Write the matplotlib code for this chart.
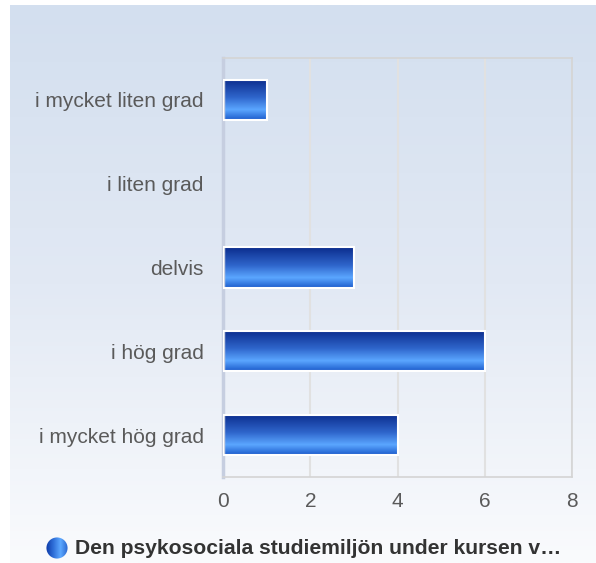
import numpy as np
import matplotlib
matplotlib.use("Agg")
import matplotlib.pyplot as plt
from matplotlib.colors import LinearSegmentedColormap
from matplotlib.patches import Circle

# Data
categories = ["i mycket liten grad", "i liten grad", "delvis", "i hög grad", "i mycket hög grad"]
counts = [1, 0, 3, 6, 4]
xticks = [0, 2, 4, 6, 8]
legend_label = "Den psykosociala studiemiljön under kursen v…"

plt.rcParams['font.family'] = ['Liberation Sans', 'DejaVu Sans']

W, H = 596, 563
fig = plt.figure(figsize=(W / 100, H / 100), dpi=100, facecolor="white")

# background panel gradient
bg = fig.add_axes([10 / W, 0, (W - 10) / W, (H - 5) / H], zorder=0)
bg_cmap = LinearSegmentedColormap.from_list("bg", ["#d3dfef", "#e2e9f4", "#fafbfd"])
bg.imshow(np.linspace(0, 1, 256).reshape(-1, 1), cmap=bg_cmap, aspect="auto",
          extent=(0, 1, 0, 1), origin="upper")
bg.set_axis_off()

# main plot
ax = fig.add_axes([223 / W, (H - 477) / H, (572 - 223) / W, (477 - 58) / H], zorder=1)
ax.set_facecolor("none")

bar_cmap = LinearSegmentedColormap.from_list(
    "bar", [(0, "#0b2c8c"), (0.45, "#2f66cc"), (0.75, "#5ba6ff"), (1, "#1c5ccc")])
grad = np.linspace(0, 1, 128).reshape(-1, 1)

ypos = np.arange(len(categories))
bh = 0.48
bars = ax.barh(ypos, counts, height=bh, color="none", edgecolor="white", linewidth=1.5, zorder=3)
for b, c in zip(bars, counts):
    if c == 0:
        b.set_visible(False)
        continue
    x0, y0 = b.get_x(), b.get_y()
    im = ax.imshow(grad, cmap=bar_cmap, aspect="auto", origin="upper",
                   extent=(x0, x0 + b.get_width(), y0 + b.get_height(), y0), zorder=2)
    im.set_clip_path(b)

ax.set_xlim(0, 8)
ax.set_ylim(len(categories) - 0.5, -0.5)
ax.set_xticks(xticks)
ax.set_yticks(ypos)
ax.set_yticklabels(categories)
ax.tick_params(axis="both", length=0, labelsize=15, labelcolor="#5a5a5a")
ax.tick_params(axis="y", pad=14)
ax.tick_params(axis="x", pad=11)
ax.xaxis.grid(True, color="#e1e1e1", linewidth=1.5, zorder=1)
ax.set_axisbelow(True)
for s in ["top", "right", "bottom"]:
    ax.spines[s].set_color("#d4d4d4")
    ax.spines[s].set_linewidth(1.2)
ax.spines["left"].set_color("#c6cee0")
ax.spines["left"].set_linewidth(2.5)

# legend
lax = fig.add_axes([46 / W, (H - 559) / H, 22 / W, 22 / H], zorder=2)
lax.set_xlim(0, 1)
lax.set_ylim(0, 1)
lax.set_axis_off()
leg_cmap = LinearSegmentedColormap.from_list("leg", ["#0d3aa8", "#2f6fd8", "#5ca8ff", "#2a66d0"])
lim = lax.imshow(np.linspace(0, 1, 64).reshape(1, -1), cmap=leg_cmap, aspect="auto",
                 extent=(0, 1, 0, 1))
circ = Circle((0.5, 0.5), 0.48, transform=lax.transData, facecolor="none", edgecolor="none")
lax.add_patch(circ)
lim.set_clip_path(circ)
fig.text(75 / W, 1 - 548 / H, legend_label, fontsize=15.2, fontweight="bold",
         color="#333333", va="center", ha="left")

fig.savefig("out.png", dpi=100, facecolor="white")
